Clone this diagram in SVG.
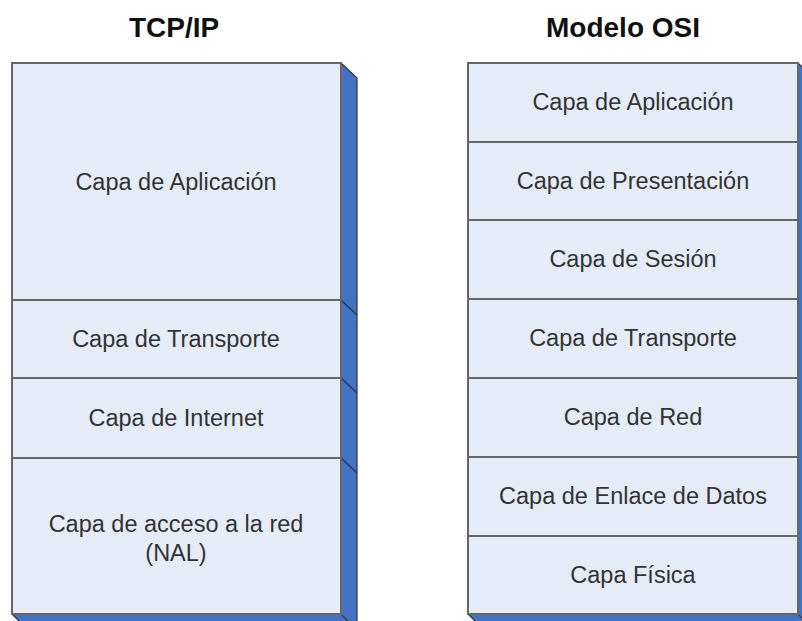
<svg xmlns="http://www.w3.org/2000/svg" width="802" height="621" viewBox="0 0 802 621">
<style>
.title{font-family:"Liberation Sans",Arial,sans-serif;font-weight:bold;font-size:28px;fill:#111;text-anchor:middle}
.lbl{font-family:"Liberation Sans",Arial,sans-serif;font-size:23.5px;fill:#333;text-anchor:middle}
.face{fill:#E6ECF7;stroke:#666;stroke-width:2}
.side{fill:#4472C4;stroke:#333;stroke-width:1.2}
.edge{stroke:#2a3550;stroke-width:1.2;fill:none}
</style>
<rect width="802" height="621" fill="#fff"/>
<text class="title" x="174" y="37">TCP/IP</text>
<text class="title" x="623" y="37">Modelo OSI</text>

<g id="tcpip-3d">
<polygon class="side" points="341,63 357,78 357,630 341,630"/>
<polygon class="side" points="12,614 341,614 357,630 28,630"/>
<line class="edge" x1="341" y1="300" x2="357" y2="315"/>
<line class="edge" x1="341" y1="378" x2="357" y2="393"/>
<line class="edge" x1="341" y1="458" x2="357" y2="473"/>
</g>
<g id="tcp-aplicacion"><rect class="face" x="12" y="63" width="329" height="237"/><text class="lbl" x="176" y="190">Capa de Aplicación</text></g>
<g id="tcp-transporte"><rect class="face" x="12" y="300" width="329" height="78"/><text class="lbl" x="176" y="347">Capa de Transporte</text></g>
<g id="tcp-internet"><rect class="face" x="12" y="378" width="329" height="80"/><text class="lbl" x="176" y="426">Capa de Internet</text></g>
<g id="tcp-acceso"><rect class="face" x="12" y="458" width="329" height="156"/><text class="lbl" x="176" y="532">Capa de acceso a la red</text><text class="lbl" x="176" y="561">(NAL)</text></g>

<g id="osi-3d">
<polygon class="side" points="798,63 814,78 814,630 798,630"/>
<polygon class="side" points="468,614 798,614 814,630 484,630"/>
</g>
<g id="osi-aplicacion"><rect class="face" x="468" y="63" width="330" height="79"/><text class="lbl" x="633" y="110">Capa de Aplicación</text></g>
<g id="osi-presentacion"><rect class="face" x="468" y="142" width="330" height="78"/><text class="lbl" x="633" y="189">Capa de Presentación</text></g>
<g id="osi-sesion"><rect class="face" x="468" y="220" width="330" height="79"/><text class="lbl" x="633" y="267">Capa de Sesión</text></g>
<g id="osi-transporte"><rect class="face" x="468" y="299" width="330" height="79"/><text class="lbl" x="633" y="346">Capa de Transporte</text></g>
<g id="osi-red"><rect class="face" x="468" y="378" width="330" height="79"/><text class="lbl" x="633" y="425">Capa de Red</text></g>
<g id="osi-enlace"><rect class="face" x="468" y="457" width="330" height="79"/><text class="lbl" x="633" y="504">Capa de Enlace de Datos</text></g>
<g id="osi-fisica"><rect class="face" x="468" y="536" width="330" height="78"/><text class="lbl" x="633" y="583">Capa Física</text></g>
</svg>
